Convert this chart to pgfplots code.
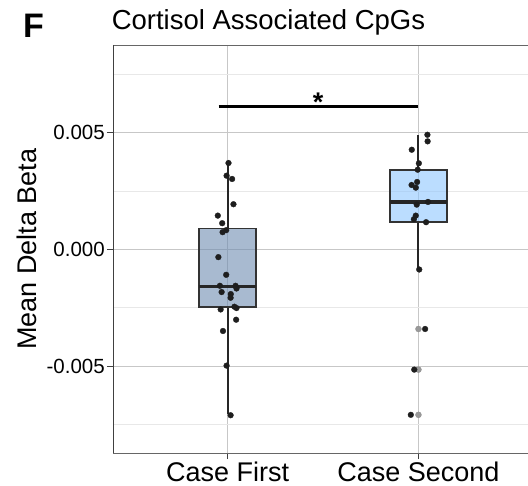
\documentclass[border=0pt]{standalone}
\usepackage{pgfplots}
\pgfplotsset{compat=1.18}
\usepackage{pgfplotstable}
\usepgfplotslibrary{statistics}
\usepackage{fontspec}
\setmainfont{Liberation Sans}
\definecolor{boxA}{HTML}{6E8CB0}
\definecolor{boxB}{HTML}{8EC6FF}
\definecolor{pt}{HTML}{1E1E1E}

% y values in units of 1e-3 (Mean Delta Beta x 1000)
\pgfplotstableread{
x y
1.005 3.697
0.995 3.154
1.024 3.013
1.031 1.932
0.949 1.444
0.972 1.120
0.974 0.735
0.993 0.821
0.952 -0.333
0.993 -1.090
0.960 -1.560
1.042 -1.560
1.047 -1.675
0.969 -1.829
1.017 -1.915
1.016 -2.073
0.964 -2.573
1.036 -2.457
1.047 -2.513
1.045 -3.013
0.976 -3.496
0.995 -4.979
1.016 -7.103
}\first

\pgfplotstableread{
x y
2.047 4.906
2.048 4.624
1.965 4.265
2.002 3.684
1.996 3.410
1.993 2.885
1.964 2.756
1.986 2.641
2.050 2.030
1.991 1.915
1.986 1.444
1.976 1.291
2.040 1.162
2.004 -0.863
2.035 -3.410
1.978 -5.150
1.960 -7.085
}\second

\pgfplotstableread{
x y
2.000 -3.410
2.000 -5.150
2.000 -7.085
}\outl

\begin{document}
\begin{tikzpicture}
\useasboundingbox (0,0) rectangle (528bp,486bp);
\clip (0,0) rectangle (528bp,486bp);
\begin{axis}[
  at={(113bp,33bp)}, anchor=south west,
  scale only axis, width=420bp, height=408bp,
  xmin=0.4, xmax=2.6, ymin=-8.72, ymax=8.75,
  xtick={1,2}, xticklabels={Case First, Case Second},
  ytick={-5,0,5}, yticklabels={-0.005,0.000,0.005},
  minor ytick={-7.5,-2.5,2.5,7.5},
  scaled y ticks=false,
  xmajorgrids, ymajorgrids, yminorgrids,
  major grid style={black!22, line width=0.7bp},
  minor grid style={black!9, line width=0.7bp},
  axis line style={black!60, line width=0.9bp},
  tick align=outside, xtick pos=bottom, ytick pos=left,
  major tick length=6bp, minor tick length=0pt,
  tick style={black!75, line width=0.9bp},
  yticklabel style={font=\fontsize{20.5bp}{24bp}\selectfont, inner sep=2bp},
  xticklabel style={font=\fontsize{27bp}{32bp}\selectfont, anchor=base, inner sep=0pt, yshift=-22.5bp},
  ylabel={Mean Delta Beta},
  ylabel style={at={(axis description cs:-0.181,0.5)}, anchor=base, font=\fontsize{27bp}{32bp}\selectfont},
  boxplot/draw direction=y,
]
\addplot[boxplot prepared={lower whisker=-7.07, lower quartile=-2.47, median=-1.6,
  upper quartile=0.889, upper whisker=3.7, draw position=1, box extend=0.3, whisker extend=0,
  every whisker/.style={line width=2bp, black!85},
  every box/.style={line width=1.6bp, draw=black!80, fill=boxA, fill opacity=0.6},
  every median/.style={line width=3.2bp, black!85}},
  draw=black!80, line width=1.6bp] coordinates {};
\addplot[boxplot prepared={lower whisker=-0.863, lower quartile=1.162, median=2.03,
  upper quartile=3.41, upper whisker=4.9, draw position=2, box extend=0.3, whisker extend=0,
  every whisker/.style={line width=2bp, black!85},
  every box/.style={line width=1.6bp, draw=black!80, fill=boxB, fill opacity=0.6},
  every median/.style={line width=3.2bp, black!85}},
  draw=black!80, line width=1.6bp] coordinates {};
\addplot[only marks, mark=*, mark size=3bp, mark options={fill=black!40, draw=black!45, line width=0.3bp}] table[x=x,y=y] {\outl};
\addplot[only marks, mark=*, mark size=2.9bp, mark options={fill=pt, draw=pt, line width=0.3bp}] table[x=x,y=y] {\first};
\addplot[only marks, mark=*, mark size=2.9bp, mark options={fill=pt, draw=pt, line width=0.3bp}] table[x=x,y=y] {\second};
\addplot[black, line width=3bp, no marks] coordinates {(0.953,6.1) (1.995,6.1)};
\node[font=\bfseries\fontsize{27bp}{30bp}\selectfont, anchor=center, inner sep=0pt] at (axis cs:1.474,6.3) {*};
\end{axis}
\draw[black!75, line width=1bp] (113bp,441bp) -- (113bp,33bp);
\node[anchor=base west, inner sep=0pt, font=\fontsize{27.5bp}{32bp}\selectfont] at (111.6bp,456.7bp) {Cortisol Associated CpGs};
\node[anchor=base west, inner sep=0pt, font=\bfseries\fontsize{34bp}{38bp}\selectfont] at (22.8bp,448.3bp) {F};
\end{tikzpicture}
\end{document}
